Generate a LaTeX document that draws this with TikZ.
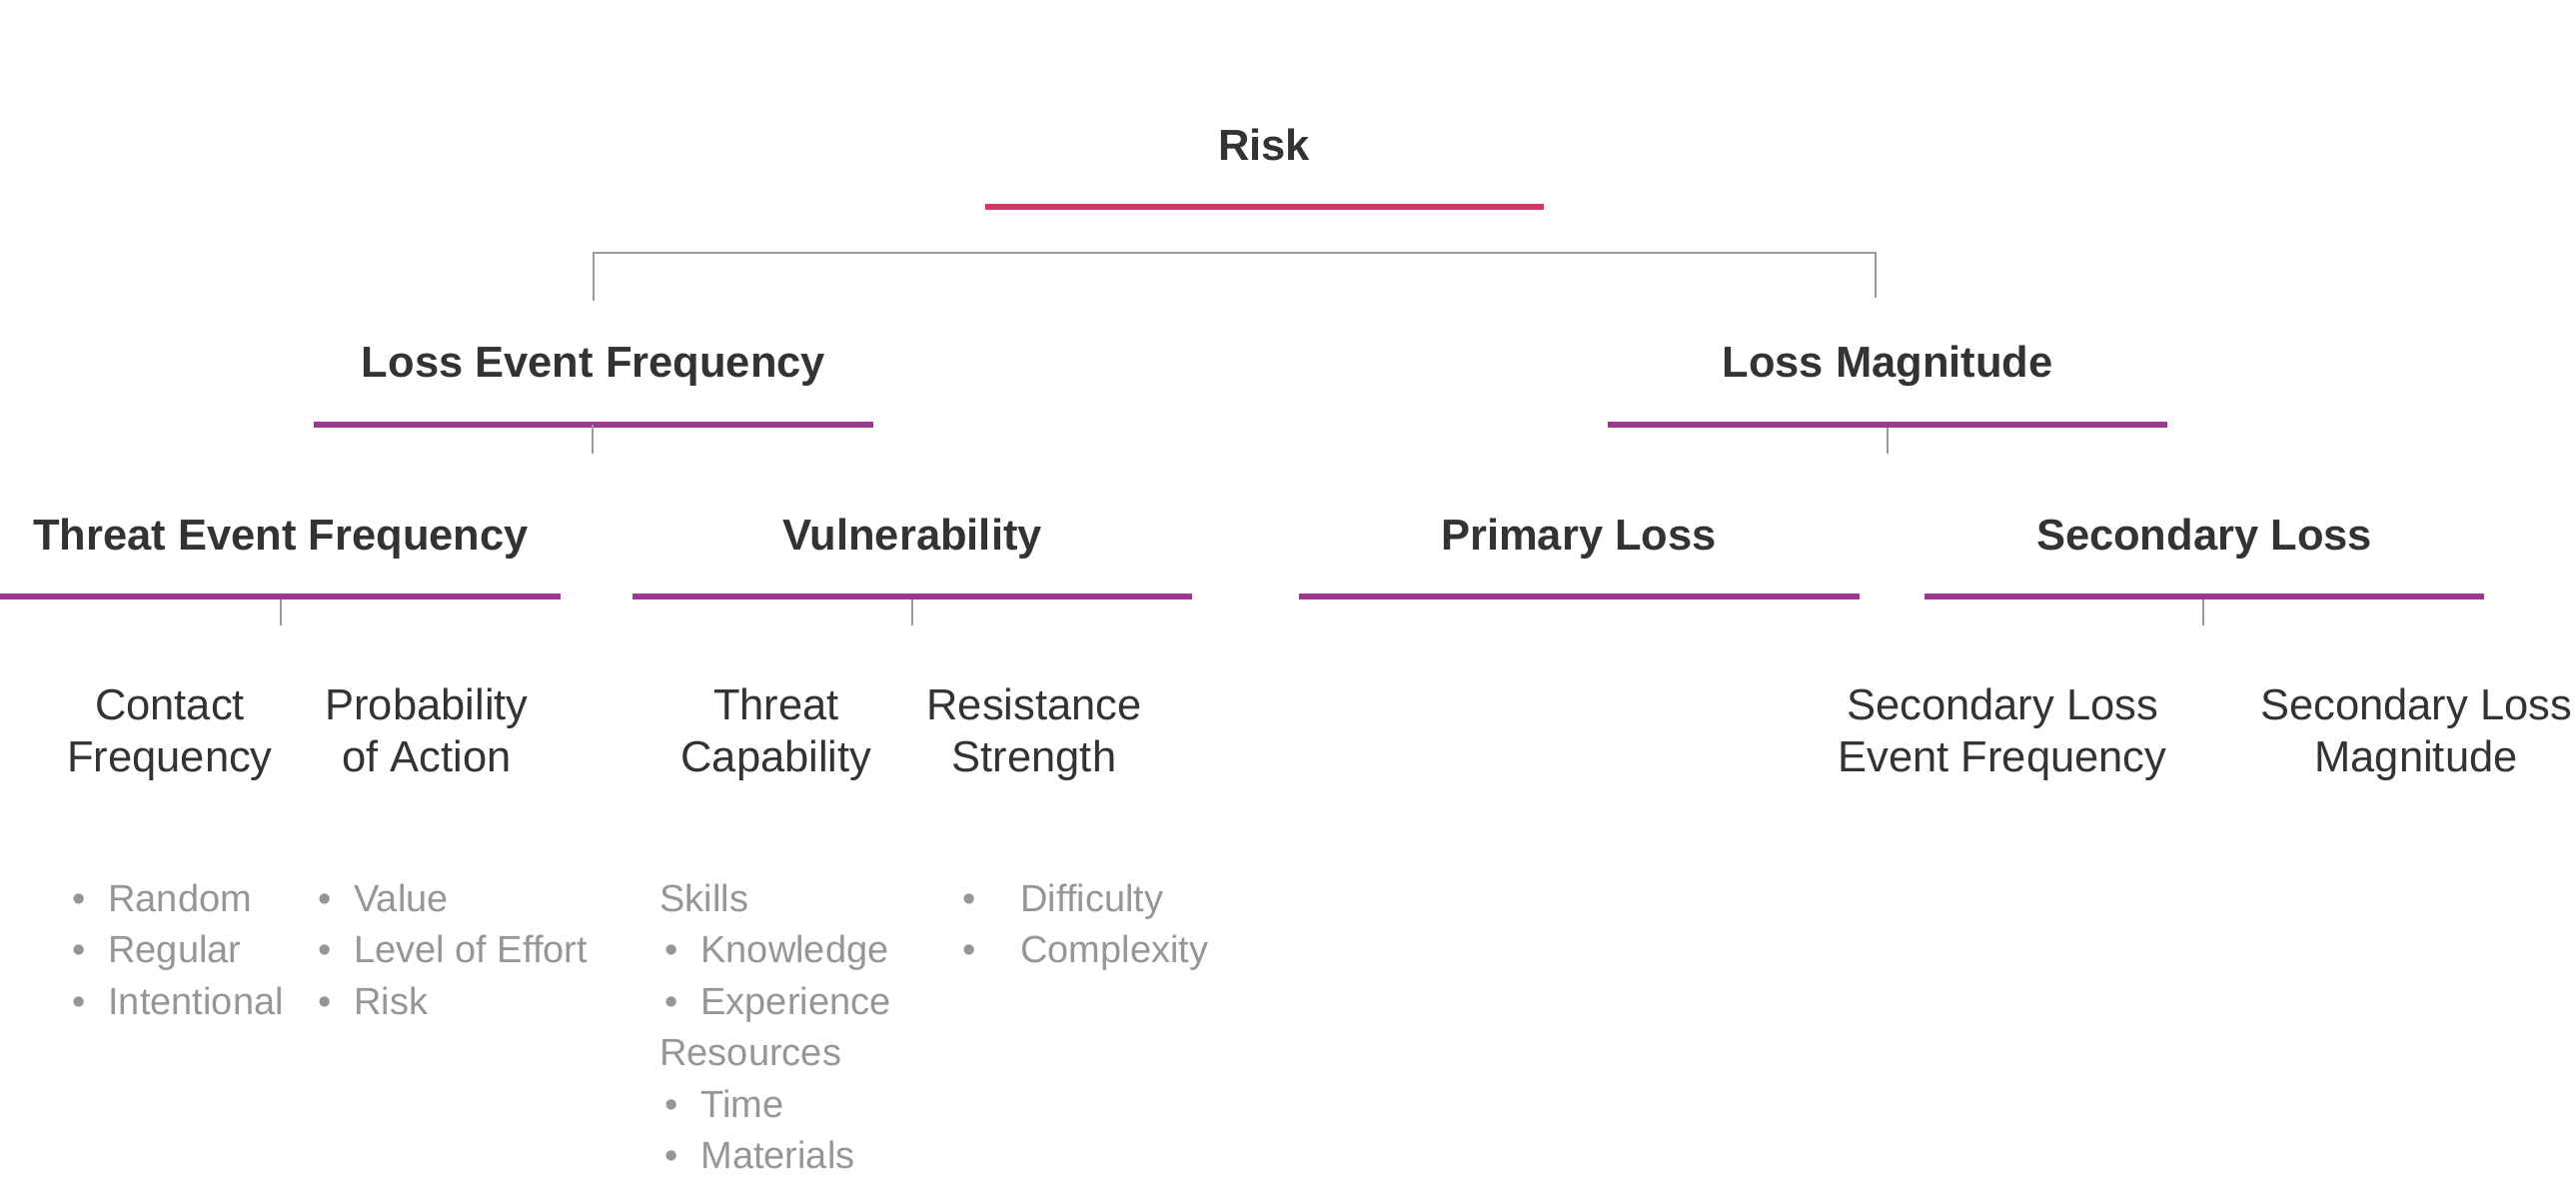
\documentclass[tikz,border=0pt]{standalone}
\usepackage{fontspec}
\setmainfont{Liberation Sans}
\definecolor{txt}{HTML}{333333}
\definecolor{soft}{HTML}{969696}
\definecolor{riskc}{HTML}{D63664}
\definecolor{purp}{HTML}{993A90}
\definecolor{conn}{HTML}{9A9A9A}
\newcommand\itembul[1][17.75pt]{\makebox[#1][l]{•}}
\begin{document}
\begin{tikzpicture}[x=0.5pt,y=-0.5pt,
  head/.style={font=\fontsize{21.75pt}{26pt}\selectfont\bfseries, text=txt, inner sep=0pt, anchor=base},
  sub/.style={font=\fontsize{21.75pt}{26pt}\selectfont, text=txt, inner sep=0pt, align=center, anchor=base},
  items/.style={font=\fontsize{19pt}{25.75pt}\selectfont, text=soft, inner sep=0pt, align=left, anchor=base west},
  rbar/.style={line width=3pt, draw=riskc},
  pbar/.style={line width=3pt, draw=purp},
  link/.style={line width=0.8pt, draw=conn},
]
\useasboundingbox (0,0) rectangle (2578,1196);
% level 0
\node[head] (risk) at (1265,160) {Risk};
\coordinate (riskL) at (986,207); \coordinate (riskR) at (1545,207);
\draw[rbar] (riskL) -- (riskR);
% level 1
\node[head] (lef) at (594,377) {Loss Event Frequency};
\coordinate (lefL) at (314,425); \coordinate (lefR) at (874,425);
\draw[pbar] (lefL) -- (lefR);
\node[head] (lm) at (1889,377) {Loss Magnitude};
\coordinate (lmL) at (1609,425); \coordinate (lmR) at (2169,425);
\draw[pbar] (lmL) -- (lmR);
% connector under risk
\coordinate (cA) at (594,301); \coordinate (cB) at (1877,298);
\coordinate (cH) at (594,253);
\draw[link] (cA) -- (cH) -- (cH -| cB) -- (cB);
% stubs level 1
\coordinate (lefS1) at (593,425); \coordinate (lefS2) at (593,454);
\draw[link] (lefS1) -- (lefS2);
\coordinate (lmS1) at (1889,428); \coordinate (lmS2) at (1889,454);
\draw[link] (lmS1) -- (lmS2);
% level 2
\node[head] (tef) at (281,550) {Threat Event Frequency};
\coordinate (tefL) at (0,597); \coordinate (tefR) at (561,597);
\draw[pbar] (tefL) -- (tefR);
\node[head] (vul) at (913,550) {Vulnerability};
\coordinate (vulL) at (633,597); \coordinate (vulR) at (1193,597);
\draw[pbar] (vulL) -- (vulR);
\node[head] (pl) at (1580,550) {Primary Loss};
\coordinate (plL) at (1300,597); \coordinate (plR) at (1861,597);
\draw[pbar] (plL) -- (plR);
\node[head] (sl) at (2206,550) {Secondary Loss};
\coordinate (slL) at (1926,597); \coordinate (slR) at (2486,597);
\draw[pbar] (slL) -- (slR);
% stubs level 2
\coordinate (tefS1) at (281,600); \coordinate (tefS2) at (281,626);
\draw[link] (tefS1) -- (tefS2);
\coordinate (vulS1) at (913,600); \coordinate (vulS2) at (913,626);
\draw[link] (vulS1) -- (vulS2);
\coordinate (slS1) at (2205,600); \coordinate (slS2) at (2205,626);
\draw[link] (slS1) -- (slS2);
% level 3 (base anchor = baseline of last line)
\node[sub] (cf) at (170,772) {Contact\\Frequency};
\node[sub] (poa) at (427,772) {Probability\\of Action};
\node[sub] (tc) at (777,772) {Threat\\Capability};
\node[sub] (rs) at (1035,772) {Resistance\\Strength};
\node[sub] (slef) at (2004,772) {Secondary Loss\\Event Frequency};
\node[sub] (slm) at (2418,772) {Secondary Loss\\Magnitude};
% item lists (base anchor = baseline of last line)
\node[items] (cfi) at (72.5,1015) {\itembul Random\\\itembul Regular\\\itembul Intentional};
\node[items] (poai) at (318.5,1015) {\itembul Value\\\itembul Level of Effort\\\itembul Risk};
\node[items] (tci) at (660,1169.5) {Skills\\\hspace*{2.75pt}\itembul Knowledge\\\hspace*{2.75pt}\itembul Experience\\Resources\\\hspace*{2.75pt}\itembul Time\\\hspace*{2.75pt}\itembul Materials};
\node[items] (rsi) at (963.5,963.5) {\itembul[28.75pt]Difficulty\\\itembul[28.75pt]Complexity};
\end{tikzpicture}
\end{document}
